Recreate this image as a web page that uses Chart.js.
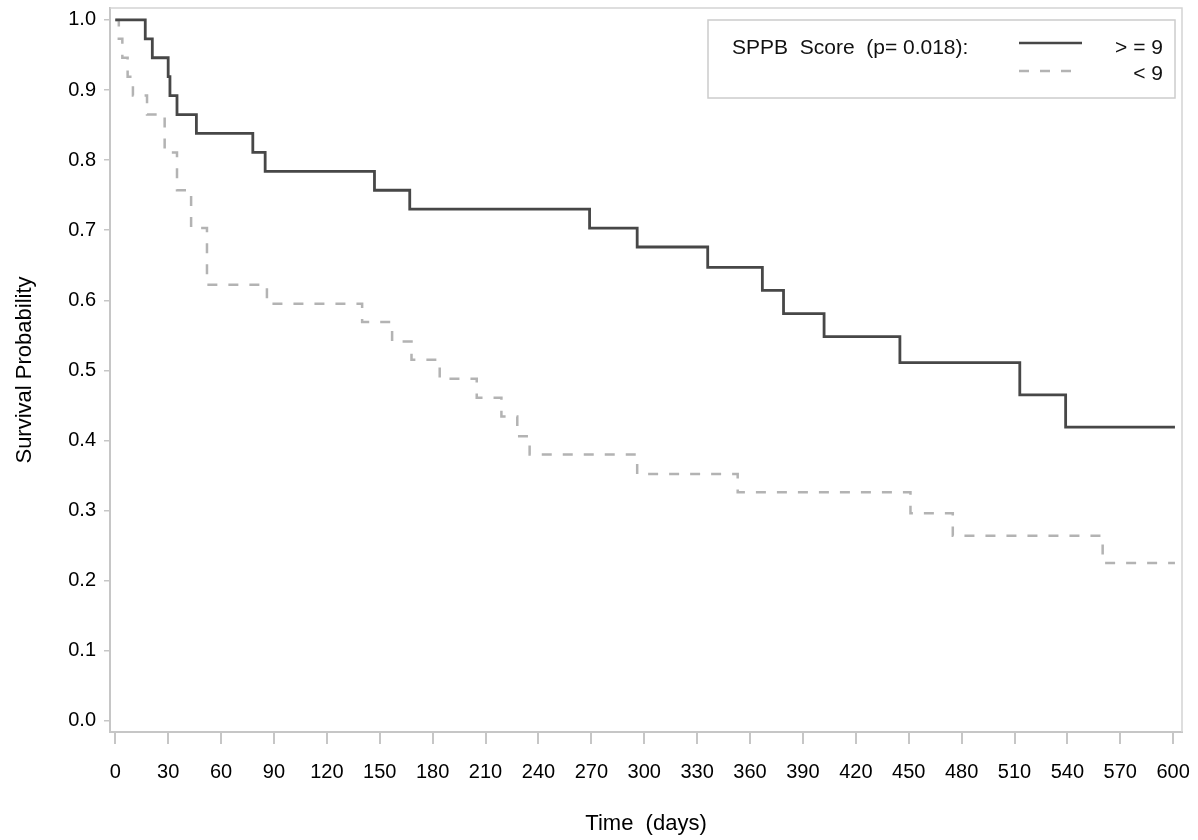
<!DOCTYPE html>
<html>
<head>
<meta charset="utf-8">
<title>Survival by SPPB score</title>
<script src="https://cdn.jsdelivr.net/npm/chart.js@4.4.1/dist/chart.umd.min.js"></script>
<style>
  html, body { margin: 0; padding: 0; background: #fff; }
  #wrap { width: 1198px; height: 840px; position: relative; }
</style>
</head>
<body>
<div id="wrap"><canvas id="km-chart"></canvas></div>
<script>
// Kaplan-Meier steps (time in days -> survival)
const highTimes = [0, 17, 21, 30, 31, 35, 46, 78, 85, 147, 167, 269, 296, 336, 367, 379, 402, 445, 513, 539, 601];
const highSurv  = [1.0, 0.973, 0.946, 0.919, 0.892, 0.865, 0.838, 0.811, 0.784, 0.757, 0.730, 0.703, 0.676, 0.647, 0.614, 0.581, 0.548, 0.511, 0.465, 0.419, 0.419];

const lowTimes = [0, 2, 4, 7, 10, 18, 28, 35, 43, 52, 86, 140, 157, 168, 184, 205, 219, 228, 235, 296, 353, 451, 475, 560, 601];
const lowSurv  = [1.0, 0.973, 0.946, 0.919, 0.892, 0.865, 0.811, 0.757, 0.703, 0.622, 0.595, 0.569, 0.541, 0.515, 0.488, 0.461, 0.434, 0.406, 0.380, 0.352, 0.326, 0.296, 0.264, 0.225, 0.225];

const xTicks = [0, 30, 60, 90, 120, 150, 180, 210, 240, 270, 300, 330, 360, 390, 420, 450, 480, 510, 540, 570, 600];
const yTicks = [0.0, 0.1, 0.2, 0.3, 0.4, 0.5, 0.6, 0.7, 0.8, 0.9, 1.0];

const legendTitle = 'SPPB  Score  (p= 0.018):';
const seriesNames = ['> = 9', '< 9'];

const FONT = '"Liberation Sans", Arial, sans-serif';
const AXIS_GREY = '#c6c6c6';
const SOLID_COLOR = '#474747';
const DASH_COLOR = '#b3b3b3';
const DASH = [10, 11];

function toPoints(times, values) {
  return times.map((t, i) => ({ x: t, y: values[i] }));
}

// frame on top/right plus the boxed legend in the upper right corner
const framePlugin = {
  id: 'frameAndLegend',
  afterDraw(chart) {
    const { ctx, chartArea: a } = chart;
    ctx.save();
    ctx.strokeStyle = '#d4d4d4';
    ctx.lineWidth = 1.5;
    ctx.beginPath();
    ctx.moveTo(a.left, a.top);
    ctx.lineTo(a.right, a.top);
    ctx.lineTo(a.right, a.bottom);
    ctx.stroke();

    // legend box
    const boxR = a.right - 7, boxL = boxR - 467, boxT = a.top + 12, boxB = boxT + 78;
    ctx.strokeStyle = '#cccccc';
    ctx.lineWidth = 1.5;
    ctx.strokeRect(boxL, boxT, boxR - boxL, boxB - boxT);

    ctx.fillStyle = '#111';
    ctx.font = '21px ' + FONT;
    ctx.textBaseline = 'middle';
    ctx.textAlign = 'left';
    ctx.fillText(legendTitle, boxL + 24, boxT + 28);

    const lineL = boxL + 311, lineR = boxL + 374;
    ctx.lineWidth = 2.5;
    ctx.strokeStyle = SOLID_COLOR;
    ctx.beginPath();
    ctx.moveTo(lineL, boxT + 23);
    ctx.lineTo(lineR, boxT + 23);
    ctx.stroke();

    ctx.strokeStyle = DASH_COLOR;
    ctx.setLineDash(DASH);
    ctx.beginPath();
    ctx.moveTo(lineL, boxT + 51);
    ctx.lineTo(lineR - 8, boxT + 51);
    ctx.stroke();
    ctx.setLineDash([]);

    ctx.textAlign = 'right';
    ctx.fillText(seriesNames[0], boxR - 12, boxT + 28);
    ctx.fillText(seriesNames[1], boxR - 12, boxT + 54);
    ctx.restore();
  }
};

new Chart(document.getElementById('km-chart'), {
  type: 'line',
  data: {
    datasets: [
      {
        label: seriesNames[0],
        data: toPoints(highTimes, highSurv),
        borderColor: SOLID_COLOR,
        borderWidth: 2.8,
        stepped: true,
        pointRadius: 0,
        fill: false
      },
      {
        label: seriesNames[1],
        data: toPoints(lowTimes, lowSurv),
        borderColor: DASH_COLOR,
        borderWidth: 2.5,
        borderDash: DASH,
        stepped: true,
        pointRadius: 0,
        fill: false
      }
    ]
  },
  options: {
    responsive: true,
    maintainAspectRatio: false,
    animation: false,
    layout: { padding: { top: 8, right: 16, left: 0, bottom: 0 } },
    plugins: {
      legend: { display: false },
      tooltip: { enabled: false }
    },
    scales: {
      x: {
        type: 'linear',
        min: -3,
        max: 605,
        afterBuildTicks: (scale) => { scale.ticks = xTicks.map(v => ({ value: v })); },
        afterFit: (scale) => {
          scale.height = 108;
          scale.paddingLeft = 0;
          scale.paddingRight = 0;
        },
        grid: { drawOnChartArea: false, drawTicks: true, tickLength: 12, color: AXIS_GREY, lineWidth: 2 },
        border: { color: AXIS_GREY, width: 2 },
        ticks: {
          padding: 16,
          color: '#000',
          font: { family: FONT, size: 20 },
          maxRotation: 0,
          autoSkip: false,
          callback: (v) => String(v)
        },
        title: {
          display: true,
          text: 'Time  (days)',
          color: '#000',
          font: { family: FONT, size: 22 },
          padding: { top: 4, bottom: 3 }
        }
      },
      y: {
        min: -0.016,
        max: 1.017,
        afterBuildTicks: (scale) => { scale.ticks = yTicks.map(v => ({ value: v })); },
        afterFit: (scale) => {
          scale.width = 110;
          scale.paddingTop = 0;
          scale.paddingBottom = 0;
        },
        grid: { drawOnChartArea: false, drawTicks: true, tickLength: 6, color: AXIS_GREY, lineWidth: 1.5 },
        border: { color: AXIS_GREY, width: 2 },
        ticks: {
          padding: 8,
          color: '#000',
          font: { family: FONT, size: 20 },
          callback: (v) => Number(v).toFixed(1)
        },
        title: {
          display: true,
          text: 'Survival Probability',
          color: '#000',
          font: { family: FONT, size: 22 },
          padding: { top: 12, bottom: 4 }
        }
      }
    }
  },
  plugins: [framePlugin]
});
</script>
</body>
</html>
